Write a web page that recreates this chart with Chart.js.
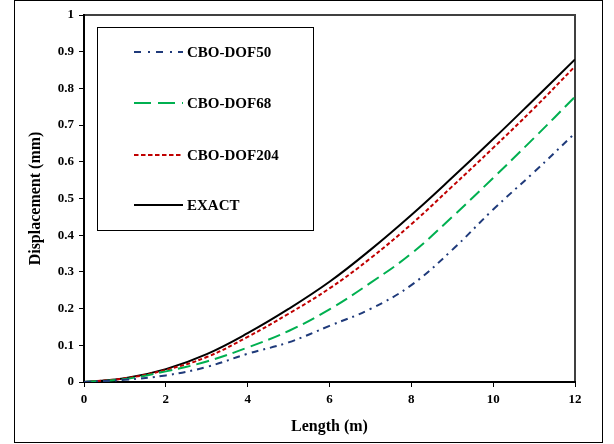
<!DOCTYPE html>
<html>
<head>
<meta charset="utf-8">
<script src="https://cdn.jsdelivr.net/npm/chart.js@4"></script>
<style>
    html, body { margin: 0; padding: 0; background: #fff; }
    canvas { display: block; }
</style>
</head>
<body>
<canvas id="chart" width="614" height="444"></canvas>
<script>
// values
const lengths = [0, 1, 2, 3, 4, 5, 6, 7, 8, 9, 10, 11, 12];
const dof50 = [0, 0.006, 0.018, 0.041, 0.077, 0.108, 0.153, 0.199, 0.264, 0.36, 0.47, 0.572, 0.678];
const dof68 = [0, 0.008, 0.029, 0.056, 0.094, 0.139, 0.198, 0.27, 0.35, 0.45, 0.556, 0.665, 0.777];
const dof204 = [0, 0.01, 0.033, 0.068, 0.123, 0.186, 0.255, 0.337, 0.43, 0.533, 0.638, 0.746, 0.86];
const exact = [0, 0.01, 0.035, 0.076, 0.133, 0.199, 0.273, 0.36, 0.455, 0.557, 0.662, 0.77, 0.879];

const xTicks = [0, 2, 4, 6, 8, 10, 12];
const yTicks = [0, 0.1, 0.2, 0.3, 0.4, 0.5, 0.6, 0.7, 0.8, 0.9, 1];

const serif = '"Liberation Serif", "Times New Roman", serif';

const pts = arr => arr.map((v, i) => ({ x: lengths[i], y: v }));

// frame round the whole picture, plot area border and the boxed legend
const decor = {
    id: 'decor',
    beforeDraw(chart) {
        const ctx = chart.ctx;
        const a = chart.chartArea;
        ctx.save();
        ctx.fillStyle = '#fff';
        ctx.fillRect(0, 0, chart.width, chart.height);
        ctx.strokeStyle = '#000';
        ctx.lineWidth = 1;
        ctx.strokeRect(14.5, 0.5, 588, 442);
        ctx.strokeStyle = '#404040';
        ctx.lineWidth = 2;
        ctx.strokeRect(a.left, a.top, a.right - a.left, a.bottom - a.top);
        ctx.restore();
    },
    afterDatasetsDraw(chart) {
        const ctx = chart.ctx;
        ctx.save();
        ctx.fillStyle = '#fff';
        ctx.fillRect(97, 27, 216, 203);
        ctx.strokeStyle = '#000';
        ctx.lineWidth = 1;
        ctx.strokeRect(97.5, 27.5, 216, 203);

        const rows = [52, 103, 155, 205];
        chart.data.datasets.forEach((ds, i) => {
            const y = rows[i];
            ctx.strokeStyle = ds.borderColor;
            ctx.lineWidth = ds.borderWidth;
            ctx.setLineDash(ds.legendDash || ds.borderDash || []);
            ctx.beginPath();
            ctx.moveTo(134, y);
            ctx.lineTo(183, y);
            ctx.stroke();
            ctx.setLineDash([]);
            ctx.fillStyle = '#000';
            ctx.font = 'bold 15px ' + serif;
            ctx.textBaseline = 'middle';
            ctx.textAlign = 'left';
            ctx.fillText(ds.label, 187, y + 1);
        });
        ctx.restore();
    }
};

new Chart(document.getElementById('chart'), {
    type: 'line',
    data: {
        datasets: [
            {
                label: 'CBO-DOF50',
                data: pts(dof50),
                borderColor: '#1F3A7A',
                borderWidth: 2,
                borderDash: [7, 5, 2, 5],
                legendDash: [7, 7, 2, 6]
            },
            {
                label: 'CBO-DOF68',
                data: pts(dof68),
                borderColor: '#00B050',
                borderWidth: 2,
                borderDash: [13, 6],
                legendDash: [17, 7]
            },
            {
                label: 'CBO-DOF204',
                data: pts(dof204),
                borderColor: '#C00000',
                borderWidth: 2,
                borderDash: [4, 2.5],
                legendDash: [4.5, 2.5]
            },
            {
                label: 'EXACT',
                data: pts(exact),
                borderColor: '#000000',
                borderWidth: 2
            }
        ]
    },
    options: {
        responsive: false,
        animation: false,
        events: [],
        elements: {
            point: { radius: 0 },
            line: { fill: false, tension: 0.4 }
        },
        layout: {
            padding: { left: 0, top: 15, right: 39, bottom: 0 }
        },
        plugins: {
            legend: { display: false },
            tooltip: { enabled: false }
        },
        scales: {
            x: {
                type: 'linear',
                min: 0,
                max: 12,
                afterFit: s => { s.height = 62; },
                afterBuildTicks: s => { s.ticks = xTicks.map(v => ({ value: v })); },
                grid: { drawOnChartArea: false, drawTicks: true, tickLength: 5, color: '#000' },
                border: { color: '#000', width: 2 },
                ticks: {
                    color: '#000',
                    padding: 5,
                    maxRotation: 0,
                    font: { family: serif, size: 13, weight: 'bold' }
                },
                title: {
                    display: true,
                    text: 'Length (m)',
                    color: '#000',
                    padding: { top: 0, bottom: 8 },
                    font: { family: serif, size: 16, weight: 'bold' }
                }
            },
            y: {
                min: 0,
                max: 1,
                afterFit: s => { s.width = 84; },
                afterBuildTicks: s => { s.ticks = yTicks.map(v => ({ value: v })); },
                grid: { drawOnChartArea: false, drawTicks: true, tickLength: 5, color: '#000' },
                border: { color: '#000', width: 2 },
                ticks: {
                    color: '#000',
                    padding: 5,
                    font: { family: serif, size: 13, weight: 'bold' },
                    callback: v => String(Math.round(v * 10) / 10)
                },
                title: {
                    display: true,
                    text: 'Displacement (mm)',
                    color: '#000',
                    padding: { top: 26, bottom: 0 },
                    font: { family: serif, size: 16, weight: 'bold' }
                }
            }
        }
    },
    plugins: [decor]
});
</script>
</body>
</html>
